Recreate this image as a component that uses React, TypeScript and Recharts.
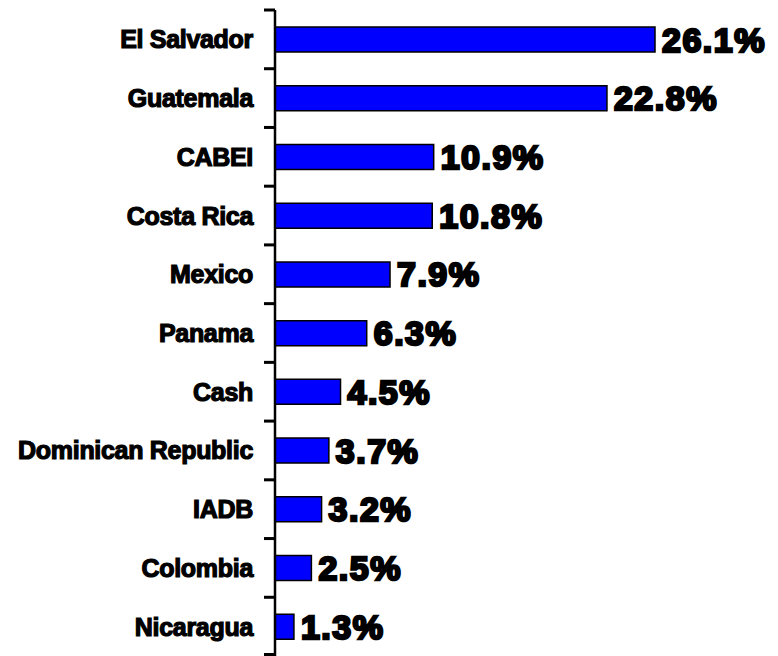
import React from "react";
import { Bar, BarChart, LabelList, XAxis, YAxis } from "recharts";

const countries = [
  "El Salvador",
  "Guatemala",
  "CABEI",
  "Costa Rica",
  "Mexico",
  "Panama",
  "Cash",
  "Dominican Republic",
  "IADB",
  "Colombia",
  "Nicaragua",
];
const shares = [26.1, 22.8, 10.9, 10.8, 7.9, 6.3, 4.5, 3.7, 3.2, 2.5, 1.3];

const data = countries.map((name, i) => ({ name, share: shares[i] }));

const FONT = '"Liberation Sans", Arial, sans-serif';
const TOP = 10;
const HEIGHT = 656;
const BAND = (HEIGHT - TOP) / countries.length;
const AXIS_X = 275;

// tick marks sit on the band edges, not the centres
const CountryTick = (props: any) => {
  const { y, payload, index } = props;
  const half = BAND / 2;
  const last = index === countries.length - 1;
  return (
    <g>
      <rect x={AXIS_X - 11} y={y - half - 1.5} width={11} height={3} fill="#000" />
      {last && (
        <rect x={AXIS_X - 11} y={y + half - 3} width={11} height={3} fill="#000" />
      )}
      <text
        x={AXIS_X - 22}
        y={y}
        textAnchor="end"
        dominantBaseline="central"
        fontFamily={FONT}
        fontWeight={700}
        fontSize={25}
        fill="#000"
        stroke="#000"
        strokeWidth={1.2}
        letterSpacing={-0.3}
      >
        {payload.value}
      </text>
    </g>
  );
};

export default function App() {
  return (
    <div style={{ position: "absolute", left: 0, top: 0 }}>
      <BarChart
        width={778}
        height={HEIGHT}
        data={data}
        layout="vertical"
        margin={{ top: TOP, right: 123, bottom: 0, left: 0 }}
        barCategoryGap={17}
      >
        <XAxis type="number" domain={[0, "dataMax"]} hide />
        <YAxis
          type="category"
          dataKey="name"
          width={AXIS_X}
          tickLine={false}
          tickSize={0}
          tickMargin={0}
          axisLine={{ stroke: "#000", strokeWidth: 2.5 }}
          tick={<CountryTick />}
          interval={0}
        />
        <Bar
          dataKey="share"
          fill="#0000ff"
          stroke="#000"
          strokeWidth={1.5}
          barSize={25}
          isAnimationActive={false}
        >
          <LabelList
            dataKey="share"
            position="right"
            offset={7}
            formatter={(v: any) => `${v}%`}
            fill="#000"
            stroke="#000"
            strokeWidth={2.5}
            fontFamily={FONT}
            fontWeight={700}
            fontSize={34}
            letterSpacing={1.5}
          />
        </Bar>
      </BarChart>
    </div>
  );
}
